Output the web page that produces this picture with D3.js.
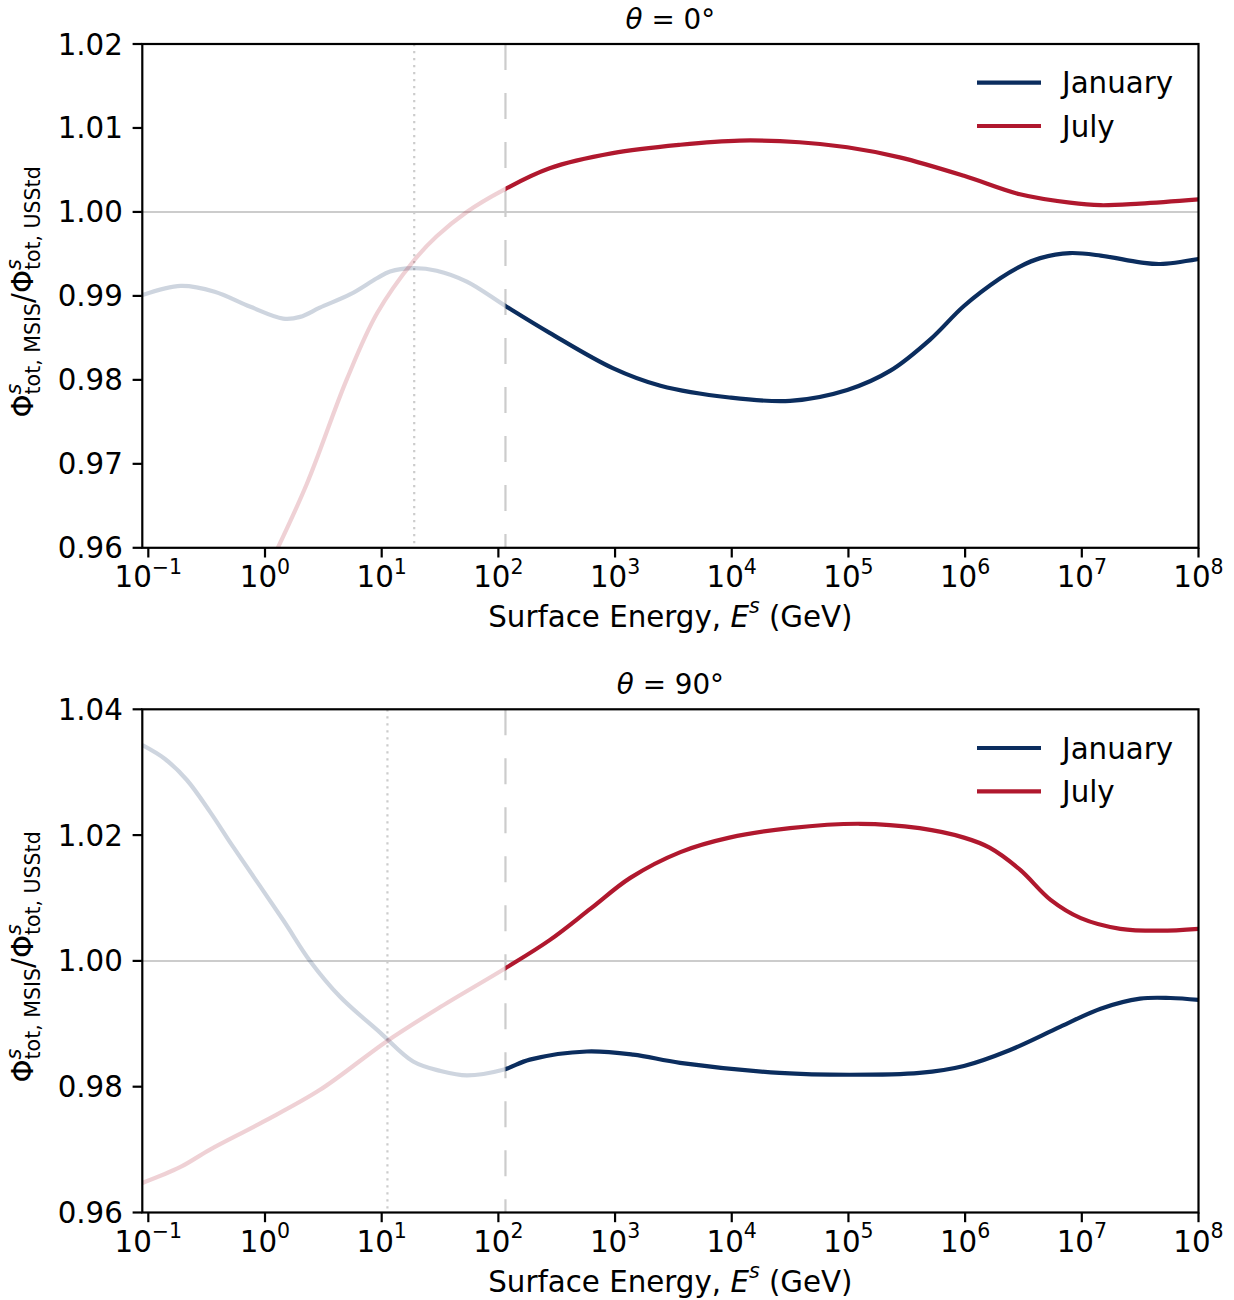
<!DOCTYPE html>
<html>
<head>
<meta charset="utf-8">
<script src="https://cdn.jsdelivr.net/npm/d3@7"></script>
<style>
body { margin: 0; background: #fff; }
text { font-family: "DejaVu Sans", sans-serif; fill: #000; white-space: pre; }
</style>
</head>
<body>
<div id="chart"></div>
<script>
// values, energies in GeV
var seriesNames = ["January", "July"];
var angles = ["0", "90"];
var xTickExp = [-1, 0, 1, 2, 3, 4, 5, 6, 7, 8];
var topTicks = [0.96, 0.97, 0.98, 0.99, 1.00, 1.01, 1.02];
var bottomTicks = [0.96, 0.98, 1.00, 1.02, 1.04];
var cutEnergy = 115;          // dashed line, faded below it
var dottedEnergy = [19, 11.2];

// theta = 0
var janTopE = [0.089, 0.19, 0.37, 0.75, 1.43, 2.0, 2.95, 5.4, 9.1, 11.8, 18.6, 29.6, 53.6, 115, 275, 955, 2450, 9550,
  31600, 97700, 229000, 501000, 977000, 2.0e6, 2.95e6, 4.4e6, 7.9e6, 1.45e7, 3.16e7, 4.7e7, 1e8];
var janTopR = [0.9901, 0.9912, 0.9905, 0.9887, 0.9873, 0.9875, 0.9886, 0.9902, 0.9921, 0.9929, 0.9933, 0.9930, 0.9917,
  0.9888, 0.9856, 0.9814, 0.9793, 0.9779, 0.9775, 0.9788, 0.9811, 0.9848, 0.9888, 0.9921, 0.9935, 0.9945, 0.9951,
  0.9948, 0.9940, 0.9938, 0.9944];
var julTopE = [1.1, 2.28, 5.0, 9.1, 18.6, 29.6, 53.6, 110, 275, 955, 3630, 11700, 38000, 97700, 275000, 977000,
  2.95e6, 7.9e6, 1.45e7, 3.16e7, 1e8];
var julTopR = [0.9580, 0.9676, 0.9800, 0.9879, 0.9941, 0.9971, 1.0000, 1.0026, 1.0052, 1.0070, 1.0080, 1.0085,
  1.0083, 1.0077, 1.0065, 1.0043, 1.0021, 1.0011, 1.0008, 1.0010, 1.0015];

// theta = 90
var janBotE = [0.089, 0.139, 0.213, 0.338, 0.53, 1.43, 2.43, 4.4, 9.7, 18.6, 32, 53.6, 110, 186, 573, 1430, 3610,
  25700, 102000, 407000, 977000, 2.4e6, 6.5e6, 1.45e7, 3.16e7, 5.75e7, 1e8];
var janBotR = [1.0343, 1.0321, 1.0288, 1.0237, 1.0182, 1.0065, 1.0000, 0.9943, 0.9886, 0.9840, 0.9825, 0.9818,
  0.9827, 0.9843, 0.9856, 0.9851, 0.9838, 0.9822, 0.9819, 0.9822, 0.9833, 0.9858, 0.9895, 0.9924, 0.9940, 0.9941,
  0.9938];
var julBotE = [0.089, 0.187, 0.338, 0.96, 2.96, 11.0, 32, 114, 275, 617, 1350, 3630, 9550, 31600, 126000, 407000,
  977000, 1.62e6, 2.95e6, 5.4e6, 9.8e6, 2.14e7, 4.7e7, 1e8];
var julBotR = [0.9647, 0.9672, 0.9700, 0.9744, 0.9795, 0.9872, 0.9927, 0.9988, 1.0033, 1.0083, 1.0132, 1.0173,
  1.0196, 1.0211, 1.0218, 1.0211, 1.0196, 1.0180, 1.0145, 1.0097, 1.0068, 1.0051, 1.0048, 1.0051];

var colors = ["#0b2d5e", "#b0182e"];
var width = 1234, height = 1300;
var left = 142.3, right = 1198.5;
var fs = 29.3;
var lw = 4.2;

var svg = d3.select("#chart").append("svg")
    .attr("width", width).attr("height", height);
var defs = svg.append("defs");

var x = d3.scaleLog().domain([0.0888, 1e8]).range([left, right]);

var panels = [
  {top: 44, bottom: 547.8, dom: [0.96, 1.02], ticks: topTicks, dotted: dottedEnergy[0],
   data: [[janTopE, janTopR], [julTopE, julTopR]]},
  {top: 709.3, bottom: 1212.5, dom: [0.96, 1.04], ticks: bottomTicks, dotted: dottedEnergy[1],
   data: [[janBotE, janBotR], [julBotE, julBotR]]}
];

// little mathtext helper: plain pieces and stacked sup/sub pieces
function addMath(parent, parts, size) {
  var g = parent.append("g");
  var pos = 0;
  parts.forEach(function(p) {
    if (p.sup !== undefined || p.sub !== undefined) {
      var w = 0;
      var both = p.sup !== undefined && p.sub !== undefined;
      if (p.sup !== undefined) {
        var t = g.append("text").attr("x", pos).attr("y", -size * (both ? 0.42 : 0.47))
          .style("font-size", (size * 0.7) + "px").text(p.sup);
        if (p.supItalic) t.style("font-style", "italic");
        w = Math.max(w, t.node().getComputedTextLength());
      }
      if (p.sub !== undefined) {
        var t2 = g.append("text").attr("x", pos).attr("y", size * 0.24)
          .style("font-size", (size * 0.7) + "px").text(p.sub);
        w = Math.max(w, t2.node().getComputedTextLength());
      }
      pos += w;
    } else {
      var t3 = g.append("text").attr("x", pos).attr("y", 0)
        .style("font-size", size + "px").text(p.text);
      if (p.italic) t3.style("font-style", "italic");
      pos += t3.node().getComputedTextLength();
    }
  });
  return {g: g, width: pos};
}

function centered(parent, parts, size, cx, cy) {
  var m = addMath(parent, parts, size);
  m.g.attr("transform", "translate(" + (cx - m.width / 2) + "," + cy + ")");
  return m;
}

panels.forEach(function(p, pi) {
  var y = d3.scaleLinear().domain(p.dom).range([p.bottom, p.top]);
  var cutX = x(cutEnergy);

  // clip rects: whole axes, left of the cut, right of the cut
  defs.append("clipPath").attr("id", "plot" + pi).append("rect")
    .attr("x", left).attr("y", p.top).attr("width", right - left).attr("height", p.bottom - p.top);
  defs.append("clipPath").attr("id", "lo" + pi).append("rect")
    .attr("x", left).attr("y", p.top).attr("width", cutX - left).attr("height", p.bottom - p.top);
  defs.append("clipPath").attr("id", "hi" + pi).append("rect")
    .attr("x", cutX).attr("y", p.top).attr("width", right - cutX).attr("height", p.bottom - p.top);

  var plot = svg.append("g").attr("clip-path", "url(#plot" + pi + ")");

  // reference lines
  plot.append("line").attr("x1", left).attr("x2", right)
    .attr("y1", y(1)).attr("y2", y(1))
    .attr("stroke", "#cccccc").attr("stroke-width", 2);
  plot.append("line").attr("x1", cutX).attr("x2", cutX)
    .attr("y1", p.top).attr("y2", p.bottom)
    .attr("stroke", "#cccccc").attr("stroke-width", 2.2).attr("stroke-dasharray", "26,23");
  plot.append("line").attr("x1", x(p.dotted)).attr("x2", x(p.dotted))
    .attr("y1", p.top).attr("y2", p.bottom)
    .attr("stroke", "#cccccc").attr("stroke-width", 2.2).attr("stroke-dasharray", "2.2,4.8");

  var line = d3.line()
    .x(function(d) { return x(d[0]); })
    .y(function(d) { return y(d[1]); })
    .curve(d3.curveCatmullRom.alpha(0.5));

  p.data.forEach(function(s, si) {
    var pts = s[0].map(function(e, i) { return [e, s[1][i]]; });
    plot.append("g").attr("clip-path", "url(#lo" + pi + ")").append("path")
      .attr("d", line(pts)).attr("fill", "none")
      .attr("stroke", colors[si]).attr("stroke-opacity", 0.2).attr("stroke-width", lw);
    plot.append("g").attr("clip-path", "url(#hi" + pi + ")").append("path")
      .attr("d", line(pts)).attr("fill", "none")
      .attr("stroke", colors[si]).attr("stroke-width", lw);
  });

  // spines
  svg.append("rect").attr("x", left).attr("y", p.top)
    .attr("width", right - left).attr("height", p.bottom - p.top)
    .attr("fill", "none").attr("stroke", "#000").attr("stroke-width", 2.2);

  // y ticks
  var yt = svg.append("g");
  p.ticks.forEach(function(v) {
    yt.append("line").attr("x1", left - 9.7).attr("x2", left)
      .attr("y1", y(v)).attr("y2", y(v)).attr("stroke", "#000").attr("stroke-width", 2.2);
    yt.append("text").attr("x", left - 19.4).attr("y", y(v) + 10.5)
      .attr("text-anchor", "end").style("font-size", fs + "px").text(d3.format(".2f")(v));
  });

  // x ticks
  var xt = svg.append("g");
  xTickExp.forEach(function(k) {
    var px = x(Math.pow(10, k));
    xt.append("line").attr("x1", px).attr("x2", px)
      .attr("y1", p.bottom).attr("y2", p.bottom + 9.7).attr("stroke", "#000").attr("stroke-width", 2.2);
    centered(xt, [{text: "10"}, {sup: k < 0 ? "\u2212" + (-k) : String(k)}], fs, px, p.bottom + 39.5);
  });

  // x label
  centered(svg, [{text: "Surface Energy, "}, {text: "E", italic: true}, {sup: "s", supItalic: true},
    {text: " (GeV)"}], fs, (left + right) / 2, p.bottom + 79);

  // title
  centered(svg, [{text: "\u03b8", italic: true}, {text: " = " + angles[pi] + "\u00b0"}], 27.8,
    (left + right) / 2, p.top - 15);

  // y label, rotated
  var yl = svg.append("g")
    .attr("transform", "translate(33," + ((p.top + p.bottom) / 2 - 4) + ") rotate(-90)");
  centered(yl, [{text: "\u03a6"}, {sup: "s", supItalic: true, sub: "tot, MSIS"}, {text: "/\u03a6"},
    {sup: "s", supItalic: true, sub: "tot, USStd"}], fs, 0, 0);

  // legend
  var legend = svg.append("g").selectAll(".legends").data(seriesNames).enter().append("g")
    .classed("legends", true)
    .attr("transform", function(d, i) { return "translate(977," + (p.top + 38.7 + i * 43.3) + ")"; });
  legend.append("line").attr("x1", 0).attr("x2", 64).attr("y1", 0).attr("y2", 0)
    .attr("stroke", function(d, i) { return colors[i]; }).attr("stroke-width", lw);
  legend.append("text").attr("x", 85).attr("y", 10.5).style("font-size", fs + "px")
    .text(function(d) { return d; });
});
</script>
</body>
</html>
